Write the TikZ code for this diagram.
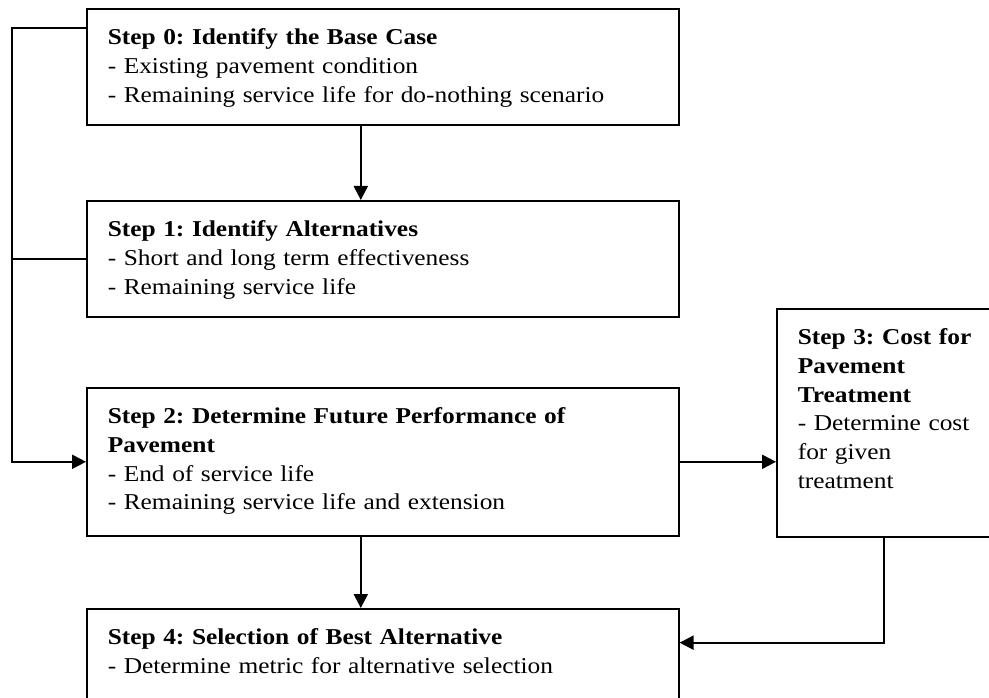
\documentclass[tikz,border=0pt]{standalone}
\usepackage{fontspec}
\setmainfont[FakeStretch=1.12]{Liberation Serif}
\usetikzlibrary{arrows.meta}
\frenchspacing

\begin{document}
\begin{tikzpicture}[x=0.75pt,y=-0.75pt,
    stepbox/.style={draw,line width=1.2pt,anchor=north west,align=left,
        inner xsep=15.75pt,inner ysep=0pt,text height=27pt,
        font=\fontsize{17}{21.5}\selectfont},
    conn/.style={line width=1.5pt,-{Triangle[length=10.5pt,width=10.5pt]}}]
        \useasboundingbox (0,0) rectangle (989,698);
        \clip (0,0) rectangle (989,698);
        \node[stepbox,text width=412.5pt,text depth=60pt](s0)at(86,8){\textbf{Step 0: Identify the Base Case}\\- Existing pavement condition\\- Remaining service life for do-nothing scenario};
        \node[stepbox,text width=412.5pt,text depth=60pt](s1)at(86,200){\textbf{Step 1: Identify Alternatives}\\- Short and long term effectiveness\\- Remaining service life};
        \node[stepbox,text width=412.5pt,text depth=84pt](s2)at(86,387){\textbf{Step 2: Determine Future Performance of}\\\textbf{Pavement}\\- End of service life\\- Remaining service life and extension};
        \node[stepbox,text width=150pt,text depth=144pt](s3)at(776,308){\textbf{Step 3: Cost for}\\\textbf{Pavement}\\\textbf{Treatment}\\- Determine cost\\for given\\treatment};
        \node[stepbox,text width=412.5pt,text depth=75pt](s4)at(86,608){\textbf{Step 4: Selection of Best Alternative}\\- Determine metric for alternative selection};

        \draw[conn]([xshift=-16.5pt]s0.south)--([xshift=-16.5pt]s1.north);
        \draw[conn]([xshift=-16.5pt]s2.south)--([xshift=-16.5pt]s4.north);
        \draw[conn](s2.east)--(s2.east-|s3.west);
        \draw[conn]([yshift=-15pt]s0.north west)--++(-74,0)|-(s2.west);
        \draw[line width=1.5pt](s1.west)--++(-74,0);
        \draw[conn]([xshift=-10.5pt]s3.south)|-([yshift=-26pt]s4.north east);
    \end{tikzpicture}
\end{document}
